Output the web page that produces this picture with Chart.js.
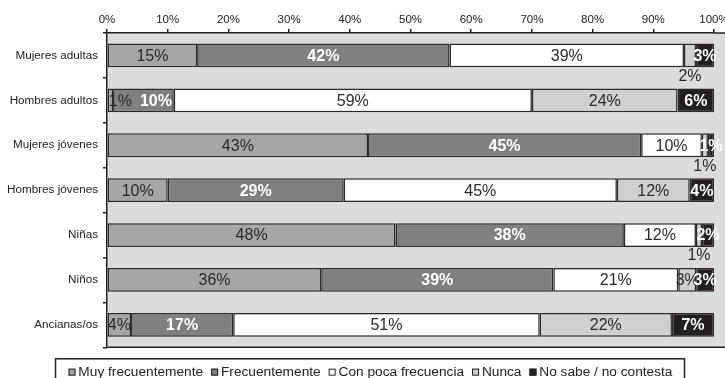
<!DOCTYPE html>
<html>
<head>
<meta charset="utf-8">
<script src="https://cdn.jsdelivr.net/npm/chart.js@4"></script>
<style>
  html, body { margin: 0; padding: 0; background: #fff; }
  #wrap { width: 725px; height: 378px; }
</style>
</head>
<body>
<div id="wrap"><canvas id="chart"></canvas></div>
<script>
// data (percent labels as printed)
const categories = ["Mujeres adultas", "Hombres adultos", "Mujeres jóvenes", "Hombres jóvenes", "Niñas", "Niños", "Ancianas/os"];
const seriesNames = ["Muy frecuentemente", "Frecuentemente", "Con poca frecuencia", "Nunca", "No sabe / no contesta"];
const muyFrecuentemente = [15, 1, 43, 10, 48, 36, 4];
const frecuentemente = [42, 10, 45, 29, 38, 39, 17];
const conPocaFrecuencia = [39, 59, 10, 45, 12, 21, 51];
const nunca = [2, 24, 1, 12, 1, 3, 22];
const noSabe = [3, 6, 1, 4, 2, 3, 7];
const xTickLabels = ["0%", "10%", "20%", "30%", "40%", "50%", "60%", "70%", "80%", "90%", "100%"];

const seriesValues = [muyFrecuentemente, frecuentemente, conPocaFrecuencia, nunca, noSabe];
const seriesColors = ["#a6a6a6", "#808080", "#ffffff", "#d0d0d0", "#231f20"];
const labelColors = ["#2b2b2b", "#ffffff", "#2b2b2b", "#2b2b2b", "#ffffff"];
const labelBold = [false, true, false, false, true];
const ink = "#222";

Chart.defaults.font.family = '"Liberation Sans", Arial, sans-serif';

// 100% stacked: each row is scaled to its own total
const totals = categories.map((c, i) => seriesValues.reduce((s, arr) => s + arr[i], 0));

const plotBackground = {
  id: "plotBackground",
  afterLayout(chart) {
    // the legend row sits a bit right of the page centre
    chart.legend.left = 16;
  },
  beforeDraw(chart) {
    const { ctx, chartArea } = chart;
    ctx.save();
    ctx.fillStyle = "#dcdcdc";
    ctx.fillRect(chartArea.left, chartArea.top, chart.width - chartArea.left, chartArea.bottom - chartArea.top);
    ctx.restore();
  },
  afterDraw(chart) {
    const { ctx, chartArea } = chart;
    ctx.save();
    ctx.strokeStyle = ink;
    ctx.lineWidth = 1.5;
    ctx.beginPath();
    ctx.moveTo(chartArea.left - 0.75, chartArea.bottom);
    ctx.lineTo(chart.width, chartArea.bottom);
    ctx.moveTo(chartArea.right, chartArea.top);
    ctx.lineTo(chart.width, chartArea.top);
    ctx.stroke();

    // legend markers and frame
    const boxes = chart.legend.legendHitBoxes;
    boxes.forEach((hb, i) => {
      const cy = hb.top + hb.height / 2;
      ctx.fillStyle = seriesColors[i];
      ctx.fillRect(hb.left, cy - 3.5, 7, 7);
      ctx.lineWidth = 1;
      ctx.strokeStyle = ink;
      ctx.strokeRect(hb.left + 0.5, cy - 3, 6, 6);
    });
    const first = boxes[0], last = boxes[boxes.length - 1];
    ctx.lineWidth = 1.5;
    ctx.strokeStyle = ink;
    ctx.strokeRect(first.left - 13, first.top - 6.5, last.left + last.width + 25 - first.left, chart.height);
    ctx.restore();
  }
};

const barLabels = {
  id: "barLabels",
  afterDatasetsDraw(chart) {
    const ctx = chart.ctx;
    ctx.save();
    ctx.textBaseline = "middle";
    const rowEnd = {}; // right edge of the last label drawn in each row
    chart.data.datasets.forEach((ds, di) => {
      const meta = chart.getDatasetMeta(di);
      meta.data.forEach((bar, i) => {
        const v = seriesValues[di][i];
        const text = v + "%";
        const p = bar.getProps(["x", "y", "base", "height"], true);
        let cx = (p.x + p.base) / 2;
        let cy = p.y;
        let color = labelColors[di];
        let bold = labelBold[di];
        const below = di === 3 && v <= 2;
        if (below) {
          cy = p.y + p.height / 2 + 8;
          color = "#2b2b2b";
          bold = false;
        }
        ctx.fillStyle = color;
        ctx.font = (bold ? "bold " : "") + '16px "Liberation Sans", Arial, sans-serif';
        const w = ctx.measureText(text).width;
        ctx.textAlign = "center";
        if (di === 0 && w > p.x - p.base) {
          ctx.textAlign = "left";
          cx = p.base + 1;
          rowEnd[i] = cx + w;
        } else if (!below && rowEnd[i] !== undefined && cx - w / 2 < rowEnd[i] + 8) {
          cx = rowEnd[i] + 8 + w / 2;
          rowEnd[i] = undefined;
        }
        ctx.fillText(text, cx, cy + 1);
      });
    });
    ctx.restore();
  }
};

new Chart(document.getElementById("chart"), {
  type: "bar",
  data: {
    labels: categories,
    datasets: seriesNames.map((name, di) => ({
      label: name,
      data: seriesValues[di].map((v, i) => v / totals[i] * 100),
      backgroundColor: seriesColors[di],
      borderColor: "#2a2a2a",
      borderWidth: 1.5,
      borderSkipped: false,
      categoryPercentage: 1,
      barPercentage: 0.53,
    })),
  },
  options: {
    indexAxis: "y",
    responsive: true,
    maintainAspectRatio: false,
    animation: false,
    layout: { padding: { left: 0, right: 0, top: 0, bottom: -11 } },
    scales: {
      x: {
        stacked: true,
        position: "top",
        min: 0,
        max: 100,
        ticks: {
          stepSize: 10,
          callback: (v, i) => xTickLabels[i],
          font: { size: 11.5 },
          color: ink,
          padding: 2,
          maxRotation: 0,
        },
        grid: { drawOnChartArea: false, tickLength: 4, color: ink, lineWidth: 1.5 },
        border: { color: ink, width: 1.5 },
        afterFit(axis) {
          axis.height = 33;
          axis.paddingLeft = 0;
          axis.paddingRight = 11;
        },
      },
      y: {
        stacked: true,
        ticks: { font: { size: 11.7 }, color: ink, padding: 5 },
        grid: { drawOnChartArea: false, tickLength: 4, color: ink, lineWidth: 1.5, offset: true },
        border: { color: ink, width: 1.5 },
        afterFit(axis) {
          axis.width = 107;
        },
      },
    },
    plugins: {
      tooltip: { enabled: false },
      legend: {
        position: "bottom",
        title: { display: true, text: "", font: { size: 1, lineHeight: 1 }, padding: { top: 9, bottom: 0 } },
        labels: {
          boxWidth: 3,
          boxHeight: 3,
          padding: 8,
          color: ink,
          font: { size: 13.7 },
          generateLabels(chart) {
            return Chart.defaults.plugins.legend.labels.generateLabels(chart).map(l => ({
              ...l,
              fillStyle: "rgba(0,0,0,0)",
              strokeStyle: "rgba(0,0,0,0)",
              lineWidth: 0,
            }));
          },
        },
      },
    },
  },
  plugins: [plotBackground, barLabels],
});
</script>
</body>
</html>
